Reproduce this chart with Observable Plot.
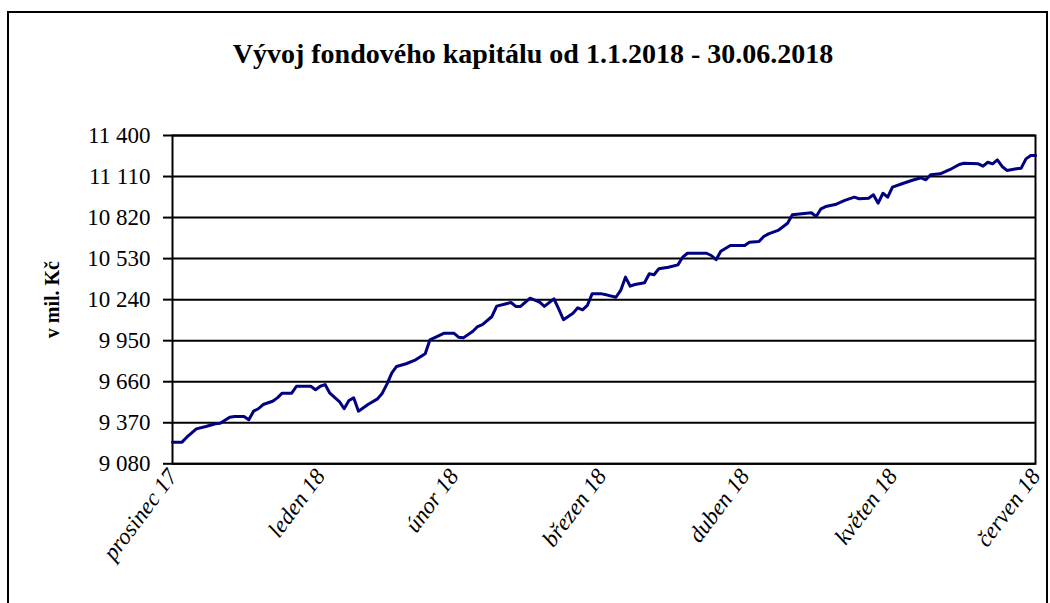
<!DOCTYPE html>
<html><head><meta charset="utf-8">
<script src="https://cdn.jsdelivr.net/npm/d3@7"></script>
<script src="https://cdn.jsdelivr.net/npm/@observablehq/plot@0.6"></script>
<style>
html,body{margin:0;padding:0;background:#fff;}
body{width:1050px;height:603px;overflow:hidden;position:relative;font-family:"Liberation Serif","Times New Roman",serif;}
#frame{position:absolute;left:7px;top:11px;width:1041px;height:700px;border:2px solid #000;box-sizing:border-box;}
#title{position:absolute;left:8px;top:36px;width:1050px;text-align:center;font-weight:bold;font-size:28px;line-height:36px;color:#000;}
#chart{position:absolute;left:0;top:100px;}
</style></head>
<body>
<div id="frame"></div>
<div id="title">Vývoj fondového kapitálu od 1.1.2018 - 30.06.2018</div>
<div id="chart"></div>
<script>
const titleText = "Vývoj fondového kapitálu od 1.1.2018 - 30.06.2018";
const yLabel = "v mil. Kč";
const dates = [
 "2017-12-31","2018-01-02","2018-01-03","2018-01-05","2018-01-07","2018-01-09","2018-01-10","2018-01-12","2018-01-13","2018-01-15",
 "2018-01-16","2018-01-17","2018-01-18","2018-01-19","2018-01-21","2018-01-22","2018-01-23","2018-01-25","2018-01-26","2018-01-29",
 "2018-01-30","2018-01-31","2018-02-01","2018-02-02","2018-02-04","2018-02-05","2018-02-06","2018-02-07","2018-02-08","2018-02-10",
 "2018-02-12","2018-02-13","2018-02-14","2018-02-15","2018-02-16","2018-02-18","2018-02-20","2018-02-22","2018-02-23","2018-02-25",
 "2018-02-26","2018-02-28","2018-03-01","2018-03-02","2018-03-04","2018-03-05","2018-03-06","2018-03-08","2018-03-09","2018-03-11",
 "2018-03-12","2018-03-13","2018-03-14","2018-03-16","2018-03-18","2018-03-19","2018-03-21","2018-03-22","2018-03-23","2018-03-25",
 "2018-03-26","2018-03-27","2018-03-28","2018-03-29","2018-03-31","2018-04-01","2018-04-03","2018-04-04","2018-04-05","2018-04-06",
 "2018-04-07","2018-04-09","2018-04-10","2018-04-11","2018-04-12","2018-04-14","2018-04-16","2018-04-17","2018-04-18","2018-04-22",
 "2018-04-23","2018-04-24","2018-04-25","2018-04-27","2018-04-30","2018-05-01","2018-05-03","2018-05-04","2018-05-05","2018-05-07",
 "2018-05-09","2018-05-10","2018-05-12","2018-05-14","2018-05-15","2018-05-16","2018-05-17","2018-05-19","2018-05-21","2018-05-23",
 "2018-05-24","2018-05-26","2018-05-27","2018-05-28","2018-05-29","2018-05-30","2018-05-31","2018-06-02","2018-06-04","2018-06-06",
 "2018-06-07","2018-06-08","2018-06-10","2018-06-12","2018-06-14","2018-06-15","2018-06-18","2018-06-19","2018-06-20","2018-06-21",
 "2018-06-22","2018-06-23","2018-06-24","2018-06-26","2018-06-27","2018-06-28","2018-06-29","2018-06-30"
];
const values = [
 9233,9233,9268,9327,9344,9363,9367,9409,9414,9414,
 9391,9452,9469,9499,9522,9546,9579,9579,9628,9628,
 9603,9628,9640,9579,9520,9469,9527,9546,9452,9499,
 9539,9579,9645,9723,9768,9787,9815,9857,9956,9987,
 10003,10003,9975,9970,10017,10050,10064,10121,10194,10211,
 10220,10192,10192,10250,10222,10192,10246,10175,10098,10144,
 10182,10168,10199,10281,10281,10274,10257,10305,10399,10335,
 10347,10359,10423,10416,10458,10469,10486,10540,10568,10568,
 10552,10522,10582,10623,10623,10646,10651,10686,10705,10729,
 10780,10840,10847,10854,10828,10882,10898,10912,10941,10964,
 10953,10957,10981,10922,10992,10964,11035,11059,11082,11101,
 11087,11122,11129,11158,11195,11204,11200,11183,11211,11200,
 11228,11181,11153,11165,11169,11235,11259,11259
];
const yTicks = [9080,9370,9660,9950,10240,10530,10820,11110,11400];
const yTickLabels = ["9 080","9 370","9 660","9 950","10 240","10 530","10 820","11 110","11 400"];
const xTickDates = ["2017-12-31","2018-01-31","2018-02-28","2018-03-31","2018-04-30","2018-05-31","2018-06-30"];
const xTickLabels = ["prosinec 17","leden 18","únor 18","březen 18","duben 18","květen 18","červen 18"];

const parse = d3.utcParse("%Y-%m-%d");
const data = dates.map((d, i) => ({date: parse(d), value: values[i]}));
const xTicks = xTickDates.map(parse);

const chart = Plot.plot({
  width: 1050,
  height: 503,
  marginLeft: 172,
  marginRight: 15,
  marginTop: 35,
  marginBottom: 139.7,
  style: {fontFamily: "'Liberation Serif','Times New Roman',serif", fontSize: "22px", color: "#000", background: "transparent", overflow: "visible"},
  x: {type: "utc", domain: [xTicks[0], xTicks[xTicks.length - 1]]},
  y: {domain: [yTicks[0], yTicks[yTicks.length - 1]]},
  marks: [
    Plot.gridY(yTicks, {stroke: "#000", strokeOpacity: 1, strokeWidth: 2}),
    Plot.frame({stroke: "#000", strokeWidth: 2}),
    Plot.lineY(data, {x: "date", y: "value", stroke: "#000080", strokeWidth: 3, strokeLinejoin: "round"}),
    Plot.axisY(yTicks, {tickSize: 9, tickPadding: 13, strokeWidth: 2, stroke: "#000", fill: "#000",
      tickFormat: (d) => yTickLabels[yTicks.indexOf(d)], label: null, fontSize: 23}),
    Plot.axisX(xTicks, {tickSize: 0, tickPadding: 8, tickRotate: -53, fontStyle: "italic", fill: "#000",
      tickFormat: (d, i) => xTickLabels[i], label: null, fontSize: 23}),
    Plot.text([yLabel], {frameAnchor: "left", textAnchor: "middle", dx: -120, rotate: -90, fontWeight: "bold", fontSize: 20, fill: "#000"})
  ]
});
document.getElementById("chart").appendChild(chart);
</script>
</body></html>
